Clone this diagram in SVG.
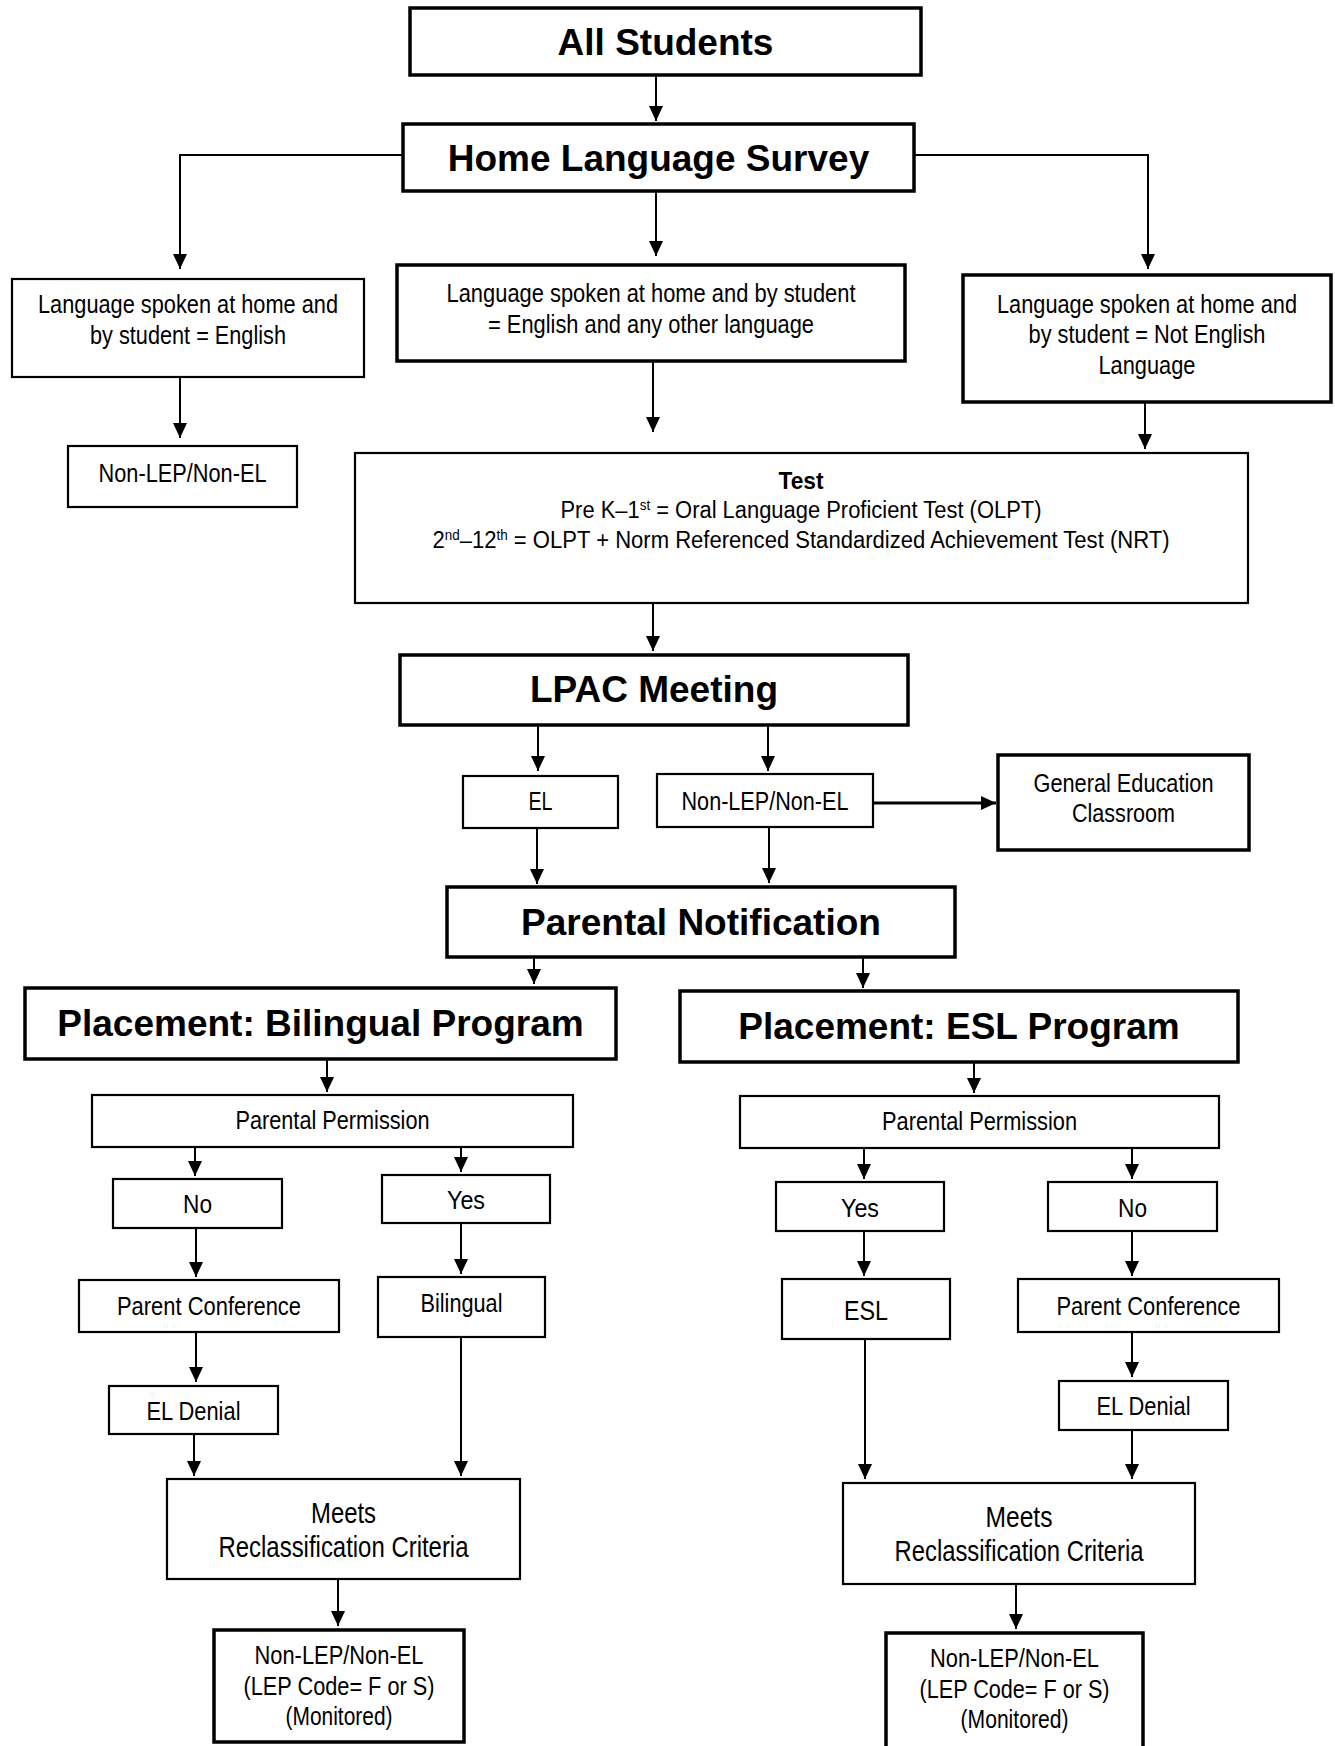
<svg xmlns="http://www.w3.org/2000/svg" width="1335" height="1746" viewBox="0 0 1335 1746">
<style>
.bg{fill:#fff}
.k{fill:#fff;stroke:#000;stroke-width:3.5}
.t{fill:#fff;stroke:#000;stroke-width:2.2}
.h{font-family:"Liberation Sans",Arial,sans-serif;font-weight:bold;font-size:37px;text-anchor:middle;fill:#000}
.n{font-family:"Liberation Sans Narrow","Liberation Sans",Arial,sans-serif;font-size:26px;text-anchor:middle;fill:#000}
.m{font-size:29px}
.s{font-size:23px}
.c{stroke:#000;stroke-width:2;fill:none;marker-end:url(#ah)}
</style>
<defs>
<marker id="ah" markerUnits="userSpaceOnUse" markerWidth="16" markerHeight="14" refX="15" refY="7" orient="auto">
<path d="M0,0 L15,7 L0,14 z" fill="#000"/>
</marker>
</defs>
<rect class="bg" x="0" y="0" width="1335" height="1746"/>
<g id="connectors">
<path class="c" d="M656,75 V121"/>
<path class="c" d="M403,155 H180 V269"/>
<path class="c" d="M914,155 H1148 V269"/>
<path class="c" d="M656,191 V256"/>
<path class="c" d="M180,377 V438"/>
<path class="c" d="M653,361 V432"/>
<path class="c" d="M1145,402 V449"/>
<path class="c" d="M653,603 V651"/>
<path class="c" d="M538,725 V771"/>
<path class="c" d="M768,725 V771"/>
<path class="c" style="stroke-width:3" d="M873,803 H996"/>
<path class="c" d="M537,828 V884"/>
<path class="c" d="M769,827 V883"/>
<path class="c" d="M534,957 V984"/>
<path class="c" d="M863,957 V988"/>
<path class="c" d="M327,1059 V1092"/>
<path class="c" d="M974,1062 V1093"/>
<path class="c" d="M195,1147 V1176"/>
<path class="c" d="M461,1147 V1172"/>
<path class="c" d="M864,1148 V1179"/>
<path class="c" d="M1132,1148 V1179"/>
<path class="c" d="M196,1228 V1277"/>
<path class="c" d="M461,1223 V1274"/>
<path class="c" d="M864,1231 V1276"/>
<path class="c" d="M1132,1231 V1276"/>
<path class="c" d="M196,1332 V1382"/>
<path class="c" d="M461,1337 V1476"/>
<path class="c" d="M1132,1332 V1377"/>
<path class="c" d="M865,1339 V1479"/>
<path class="c" d="M194,1434 V1476"/>
<path class="c" d="M1132,1430 V1479"/>
<path class="c" d="M338,1579 V1626"/>
<path class="c" d="M1016,1584 V1629"/>
</g>
<g id="all-students">
<rect class="k" x="410" y="8" width="511" height="67"/>
<text class="h" x="665.5" y="55">All Students</text>
</g>
<g id="home-language-survey">
<rect class="k" x="403" y="124" width="511" height="67"/>
<text class="h" x="658.5" y="171">Home Language Survey</text>
</g>
<g id="lang-english">
<rect class="t" x="12" y="279" width="352" height="98"/>
<text class="n" x="188" y="313" textLength="300" lengthAdjust="spacingAndGlyphs">Language spoken at home and</text>
<text class="n" x="188" y="344" textLength="196" lengthAdjust="spacingAndGlyphs">by student = English</text>
</g>
<g id="lang-both">
<rect class="k" x="397" y="265" width="508" height="96"/>
<text class="n" x="651" y="302" textLength="409" lengthAdjust="spacingAndGlyphs">Language spoken at home and by student</text>
<text class="n" x="651" y="333" textLength="326" lengthAdjust="spacingAndGlyphs">= English and any other language</text>
</g>
<g id="lang-not-english">
<rect class="k" x="963" y="275" width="368" height="127"/>
<text class="n" x="1147" y="313" textLength="300" lengthAdjust="spacingAndGlyphs">Language spoken at home and</text>
<text class="n" x="1147" y="343" textLength="237" lengthAdjust="spacingAndGlyphs">by student = Not English</text>
<text class="n" x="1147" y="374" textLength="97" lengthAdjust="spacingAndGlyphs">Language</text>
</g>
<g id="non-lep-1">
<rect class="t" x="68" y="446" width="229" height="61"/>
<text class="n" x="182.5" y="482" textLength="168" lengthAdjust="spacingAndGlyphs">Non-LEP/Non-EL</text>
</g>
<g id="test">
<rect class="t" x="355" y="453" width="893" height="150"/>
<text class="n s" x="801" y="489" style="font-weight:bold" textLength="45" lengthAdjust="spacingAndGlyphs">Test</text>
<text class="n s" x="801" y="518" textLength="481" lengthAdjust="spacingAndGlyphs">Pre K–1<tspan font-size="14" dy="-8">st</tspan><tspan dy="8"> = Oral Language Proficient Test (OLPT)</tspan></text>
<text class="n s" x="801" y="548" textLength="737" lengthAdjust="spacingAndGlyphs">2<tspan font-size="14" dy="-8">nd</tspan><tspan dy="8">–12</tspan><tspan font-size="14" dy="-8">th</tspan><tspan dy="8"> = OLPT + Norm Referenced Standardized Achievement Test (NRT)</tspan></text>
</g>
<g id="lpac-meeting">
<rect class="k" x="400" y="655" width="508" height="70"/>
<text class="h" x="654" y="702">LPAC Meeting</text>
</g>
<g id="el">
<rect class="t" x="463" y="776" width="155" height="52"/>
<text class="n" x="540.5" y="810" textLength="24" lengthAdjust="spacingAndGlyphs">EL</text>
</g>
<g id="non-lep-2">
<rect class="t" x="657" y="774" width="216" height="53"/>
<text class="n" x="765" y="810" textLength="167" lengthAdjust="spacingAndGlyphs">Non-LEP/Non-EL</text>
</g>
<g id="general-education">
<rect class="k" x="998" y="755" width="251" height="95"/>
<text class="n" x="1123.5" y="792" textLength="180" lengthAdjust="spacingAndGlyphs">General Education</text>
<text class="n" x="1123.5" y="822" textLength="103" lengthAdjust="spacingAndGlyphs">Classroom</text>
</g>
<g id="parental-notification">
<rect class="k" x="447" y="887" width="508" height="70"/>
<text class="h" x="701" y="935">Parental Notification</text>
</g>
<g id="placement-bilingual">
<rect class="k" x="25" y="988" width="591" height="71"/>
<text class="h" x="320.5" y="1036">Placement: Bilingual Program</text>
</g>
<g id="placement-esl">
<rect class="k" x="680" y="991" width="558" height="71"/>
<text class="h" x="959" y="1039">Placement: ESL Program</text>
</g>
<g id="permission-left">
<rect class="t" x="92" y="1095" width="481" height="52"/>
<text class="n" x="332.5" y="1129" textLength="194" lengthAdjust="spacingAndGlyphs">Parental Permission</text>
</g>
<g id="permission-right">
<rect class="t" x="740" y="1096" width="479" height="52"/>
<text class="n" x="979.5" y="1130" textLength="195" lengthAdjust="spacingAndGlyphs">Parental Permission</text>
</g>
<g id="no-left">
<rect class="t" x="113" y="1179" width="169" height="49"/>
<text class="n" x="197.5" y="1213" textLength="29" lengthAdjust="spacingAndGlyphs">No</text>
</g>
<g id="yes-left">
<rect class="t" x="382" y="1175" width="168" height="48"/>
<text class="n" x="466" y="1209" textLength="38" lengthAdjust="spacingAndGlyphs">Yes</text>
</g>
<g id="yes-right">
<rect class="t" x="776" y="1182" width="168" height="49"/>
<text class="n" x="860" y="1217" textLength="38" lengthAdjust="spacingAndGlyphs">Yes</text>
</g>
<g id="no-right">
<rect class="t" x="1048" y="1182" width="169" height="49"/>
<text class="n" x="1132.5" y="1217" textLength="29" lengthAdjust="spacingAndGlyphs">No</text>
</g>
<g id="parent-conference-left">
<rect class="t" x="79" y="1280" width="260" height="52"/>
<text class="n" x="209" y="1315" textLength="184" lengthAdjust="spacingAndGlyphs">Parent Conference</text>
</g>
<g id="bilingual">
<rect class="t" x="378" y="1277" width="167" height="60"/>
<text class="n" x="461.5" y="1312" textLength="82" lengthAdjust="spacingAndGlyphs">Bilingual</text>
</g>
<g id="esl">
<rect class="t" x="782" y="1279" width="168" height="60"/>
<text class="n" x="866" y="1320" style="font-size:28px" textLength="44" lengthAdjust="spacingAndGlyphs">ESL</text>
</g>
<g id="parent-conference-right">
<rect class="t" x="1018" y="1279" width="261" height="53"/>
<text class="n" x="1148.5" y="1315" textLength="184" lengthAdjust="spacingAndGlyphs">Parent Conference</text>
</g>
<g id="el-denial-left">
<rect class="t" x="109" y="1386" width="169" height="48"/>
<text class="n" x="193.5" y="1420" textLength="94" lengthAdjust="spacingAndGlyphs">EL Denial</text>
</g>
<g id="el-denial-right">
<rect class="t" x="1059" y="1381" width="169" height="49"/>
<text class="n" x="1143.5" y="1415" textLength="94" lengthAdjust="spacingAndGlyphs">EL Denial</text>
</g>
<g id="meets-left">
<rect class="t" x="167" y="1479" width="353" height="100"/>
<text class="n m" x="343.5" y="1523" textLength="65" lengthAdjust="spacingAndGlyphs">Meets</text>
<text class="n m" x="343.5" y="1557" textLength="250" lengthAdjust="spacingAndGlyphs">Reclassification Criteria</text>
</g>
<g id="meets-right">
<rect class="t" x="843" y="1483" width="352" height="101"/>
<text class="n m" x="1019" y="1527" textLength="67" lengthAdjust="spacingAndGlyphs">Meets</text>
<text class="n m" x="1019" y="1561" textLength="249" lengthAdjust="spacingAndGlyphs">Reclassification Criteria</text>
</g>
<g id="final-left">
<rect class="k" x="214" y="1630" width="250" height="112"/>
<text class="n" x="339" y="1664" textLength="169" lengthAdjust="spacingAndGlyphs">Non-LEP/Non-EL</text>
<text class="n" x="339" y="1695" textLength="191" lengthAdjust="spacingAndGlyphs">(LEP Code= F or S)</text>
<text class="n" x="339" y="1725" textLength="107" lengthAdjust="spacingAndGlyphs">(Monitored)</text>
</g>
<g id="final-right">
<rect class="k" x="886" y="1633" width="257" height="117"/>
<text class="n" x="1014.5" y="1667" textLength="169" lengthAdjust="spacingAndGlyphs">Non-LEP/Non-EL</text>
<text class="n" x="1014.5" y="1698" textLength="190" lengthAdjust="spacingAndGlyphs">(LEP Code= F or S)</text>
<text class="n" x="1014.5" y="1728" textLength="108" lengthAdjust="spacingAndGlyphs">(Monitored)</text>
</g>
</svg>
